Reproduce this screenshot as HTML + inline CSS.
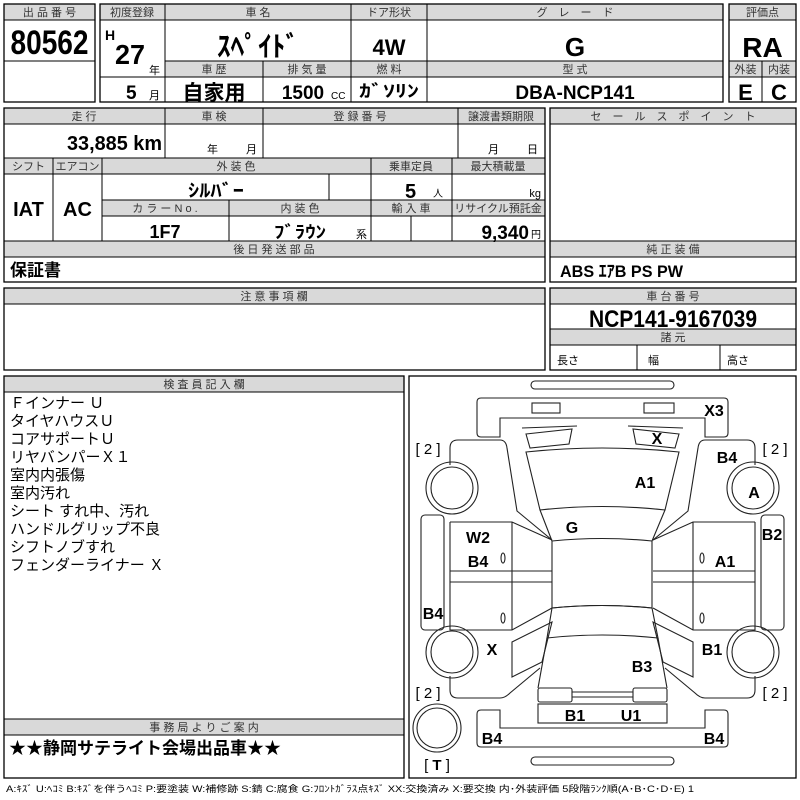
<!DOCTYPE html>
<html><head><meta charset="utf-8"><style>
html,body{margin:0;padding:0;background:#fff}
svg{display:block}
text{font-family:"Liberation Sans","Noto Sans CJK JP",sans-serif;fill:#000}
.h{font-size:11px;text-anchor:middle;fill:#333}
.b{font-weight:bold}
.m{text-anchor:middle}
.g{fill:#d9d9d9;stroke:#000;stroke-width:1}
.r{fill:none;stroke:#000;stroke-width:1.3}
.l{stroke:#000;stroke-width:1}
.d{fill:none;stroke:#222;stroke-width:1.1}
.dl{font-size:16px;font-weight:bold;text-anchor:middle}
</style></head><body>
<svg width="800" height="800" viewBox="0 0 800 800" xmlns="http://www.w3.org/2000/svg">
<rect width="800" height="800" fill="#fff"/>
<!-- Box1 -->
<rect class="g" x="4" y="4" width="91" height="16"/>
<text class="h" x="49.5" y="16">出 品 番 号</text>
<line class="l" x1="4" y1="61" x2="95" y2="61"/>
<text class="b m" x="49.5" y="54" font-size="34" textLength="78" lengthAdjust="spacingAndGlyphs">80562</text>
<rect class="r" x="4" y="4" width="91" height="98"/>
<!-- Box2 -->
<rect class="g" x="100" y="4" width="623" height="16"/>
<rect class="g" x="165" y="61" width="558" height="16"/>
<line class="l" x1="165" y1="4" x2="165" y2="102"/>
<line class="l" x1="351" y1="4" x2="351" y2="102"/>
<line class="l" x1="427" y1="4" x2="427" y2="102"/>
<line class="l" x1="263" y1="61" x2="263" y2="102"/>
<line class="l" x1="100" y1="77" x2="165" y2="77"/>
<text class="h" x="132" y="16">初度登録</text>
<text class="h" x="258" y="16">車 名</text>
<text class="h" x="389" y="16">ドア形状</text>
<text class="h" x="575" y="16">グ　レ　ー　ド</text>
<text class="b" x="105" y="40" font-size="14">H</text>
<text class="b" x="115" y="64" font-size="28" textLength="30" lengthAdjust="spacingAndGlyphs">27</text>
<text x="149" y="74" font-size="11">年</text>
<text class="b" x="126" y="99" font-size="19">5</text>
<text x="149" y="99" font-size="11">月</text>
<text class="b m" x="258" y="56" font-size="28" textLength="82" lengthAdjust="spacingAndGlyphs">ｽﾍﾟｲﾄﾞ</text>
<text class="b m" x="389" y="55" font-size="22">4W</text>
<text class="b m" x="575" y="56" font-size="26">G</text>
<text class="h" x="214" y="73">車 歴</text>
<text class="h" x="307" y="73">排 気 量</text>
<text class="h" x="389" y="73">燃 料</text>
<text class="h" x="575" y="73">型 式</text>
<text class="b m" x="214" y="100" font-size="21">自家用</text>
<text class="b m" x="303" y="99" font-size="19">1500</text>
<text x="331" y="99" font-size="10">CC</text>
<text class="b m" x="389" y="97" font-size="17" textLength="60" lengthAdjust="spacingAndGlyphs">ｶﾞｿﾘﾝ</text>
<text class="b m" x="575" y="99" font-size="19">DBA-NCP141</text>
<rect class="r" x="100" y="4" width="623" height="98"/>
<!-- Box3 -->
<rect class="g" x="729" y="4" width="67" height="16"/>
<rect class="g" x="729" y="61" width="67" height="16"/>
<line class="l" x1="762" y1="61" x2="762" y2="102"/>
<text class="h" x="762.5" y="16">評価点</text>
<text class="b m" x="762.5" y="57" font-size="28">RA</text>
<text class="h" x="745.5" y="73">外装</text>
<text class="h" x="779" y="73">内装</text>
<text class="b m" x="745.5" y="100" font-size="22">E</text>
<text class="b m" x="779" y="100" font-size="22">C</text>
<rect class="r" x="729" y="4" width="67" height="98"/>
<!-- Block2 -->
<rect class="g" x="4" y="108" width="541" height="16"/>
<rect class="g" x="4" y="158" width="541" height="16"/>
<rect class="g" x="102" y="200" width="443" height="16"/>
<rect class="g" x="4" y="241" width="541" height="16"/>
<line class="l" x1="165" y1="108" x2="165" y2="158"/>
<line class="l" x1="263" y1="108" x2="263" y2="158"/>
<line class="l" x1="458" y1="108" x2="458" y2="158"/>
<line class="l" x1="53" y1="158" x2="53" y2="241"/>
<line class="l" x1="102" y1="158" x2="102" y2="241"/>
<line class="l" x1="371" y1="158" x2="371" y2="241"/>
<line class="l" x1="452" y1="158" x2="452" y2="241"/>
<line class="l" x1="329" y1="174" x2="329" y2="200"/>
<line class="l" x1="229" y1="200" x2="229" y2="241"/>
<line class="l" x1="411" y1="216" x2="411" y2="241"/>
<text class="h" x="84" y="120">走 行</text>
<text class="h" x="214" y="120">車 検</text>
<text class="h" x="360" y="120">登 録 番 号</text>
<text class="h" x="501" y="120">譲渡書類期限</text>
<text class="b" x="162" y="150" font-size="20" text-anchor="end" textLength="95" lengthAdjust="spacingAndGlyphs">33,885 km</text>
<text x="207" y="153" font-size="11">年</text>
<text x="246" y="153" font-size="11">月</text>
<text x="488" y="153" font-size="11">月</text>
<text x="527" y="153" font-size="11">日</text>
<text class="h" x="28.5" y="170">シフト</text>
<text class="h" x="77.5" y="170">エアコン</text>
<text class="h" x="236" y="170">外 装 色</text>
<text class="h" x="411" y="170">乗車定員</text>
<text class="h" x="498" y="170">最大積載量</text>
<text class="b m" x="28.5" y="216" font-size="20">IAT</text>
<text class="b m" x="77.5" y="216" font-size="20">AC</text>
<text class="b m" x="216" y="197" font-size="18" textLength="56" lengthAdjust="spacingAndGlyphs">ｼﾙﾊﾞｰ</text>
<text class="b" x="405" y="198" font-size="20">5</text>
<text x="433" y="197" font-size="10">人</text>
<text x="541" y="197" font-size="11" text-anchor="end">kg</text>
<text class="h" x="165" y="212">カ ラ ー N o .</text>
<text class="h" x="300" y="212">内 装 色</text>
<text class="h" x="411" y="212">輸 入 車</text>
<text class="h" x="498" y="212">リサイクル預託金</text>
<text class="b m" x="165" y="238" font-size="18">1F7</text>
<text class="b m" x="300" y="238" font-size="17" textLength="52" lengthAdjust="spacingAndGlyphs">ﾌﾞﾗｳﾝ</text>
<text x="356" y="238" font-size="11">系</text>
<text class="b" x="529" y="239" font-size="19" text-anchor="end">9,340</text>
<text x="531" y="238" font-size="10">円</text>
<text class="h" x="274" y="253">後 日 発 送 部 品</text>
<text class="b" x="10" y="276" font-size="17">保証書</text>
<line class="l" x1="4" y1="174" x2="545" y2="174"/>
<rect class="r" x="4" y="108" width="541" height="174"/>
<!-- Sales point -->
<rect class="g" x="550" y="108" width="246" height="16"/>
<rect class="g" x="550" y="241" width="246" height="16"/>
<text class="h" x="673" y="120">セ　ー　ル　ス　ポ　イ　ン　ト</text>
<text class="h" x="673" y="253">純 正 装 備</text>
<text class="b" x="560" y="277" font-size="17" textLength="123" lengthAdjust="spacingAndGlyphs">ABS ｴｱB PS PW</text>
<rect class="r" x="550" y="108" width="246" height="174"/>
<!-- Block3 -->
<rect class="g" x="4" y="288" width="541" height="16"/>
<text class="h" x="274" y="300">注 意 事 項 欄</text>
<rect class="r" x="4" y="288" width="541" height="82"/>
<rect class="g" x="550" y="288" width="246" height="16"/>
<rect class="g" x="550" y="329" width="246" height="16"/>
<text class="h" x="673" y="300">車 台 番 号</text>
<text class="b m" x="673" y="327" font-size="24" textLength="168" lengthAdjust="spacingAndGlyphs">NCP141-9167039</text>
<text class="h" x="673" y="341">諸 元</text>
<line class="l" x1="637" y1="345" x2="637" y2="370"/>
<line class="l" x1="720" y1="345" x2="720" y2="370"/>
<text x="557" y="364" font-size="11">長さ</text>
<text x="648" y="364" font-size="11">幅</text>
<text x="727" y="364" font-size="11">高さ</text>
<rect class="r" x="550" y="288" width="246" height="82"/>
<!-- Block4 -->
<rect class="g" x="4" y="376" width="400" height="16"/>
<text class="h" x="204" y="388">検 査 員 記 入 欄</text>
<g font-size="15">
<text x="10" y="408">Ｆインナー Ｕ</text>
<text x="10" y="426">タイヤハウスＵ</text>
<text x="10" y="444">コアサポートＵ</text>
<text x="10" y="462">リヤバンパーＸ１</text>
<text x="10" y="480">室内内張傷</text>
<text x="10" y="498">室内汚れ</text>
<text x="10" y="516">シート すれ中、汚れ</text>
<text x="10" y="534">ハンドルグリップ不良</text>
<text x="10" y="552">シフトノブすれ</text>
<text x="10" y="570">フェンダーライナー Ｘ</text>
</g>
<rect class="g" x="4" y="719" width="400" height="16"/>
<text class="h" x="204" y="731">事 務 局 よ り ご 案 内</text>
<text class="b" x="9" y="754" font-size="17">★★静岡サテライト会場出品車★★</text>
<rect class="r" x="4" y="376" width="400" height="402"/>
<!-- Diagram -->
<rect class="r" x="409" y="376" width="387" height="402"/>
<g class="d">
<rect x="531" y="381" width="143" height="8" rx="4"/>
<rect x="531" y="757" width="143" height="8" rx="4"/>
<path d="M477,402 Q477,398 481,398 L724,398 Q728,398 728,402 L728,433 Q728,437 724,437 L705,437 L705,418 L500,418 L500,437 L481,437 Q477,437 477,433 Z"/>
<rect x="532" y="403" width="28" height="10"/>
<rect x="644" y="403" width="30" height="10"/>
<path d="M526,452 Q602,444 679,452 L665,510 Q602,503 540,510 Z"/>
<path d="M540,510 L552,541 M665,510 L652,541"/>
<path d="M552,541 Q602,536 652,541 L652,608 Q602,603 552,608 Z"/>
<path d="M552,608 Q602,603 652,608 L658,638 Q602,632 547,638 Z"/>
<path d="M547,638 L538,688 M658,638 L667,688"/>
<rect x="538" y="688" width="34" height="14" rx="2"/>
<rect x="633" y="688" width="34" height="14" rx="2"/>
<path d="M572,692 L633,692 M572,697 L633,697"/>
<rect x="538" y="704" width="129" height="19"/>
<path d="M477,714 Q477,710 481,710 L500,710 L500,728 L705,728 L705,710 L724,710 Q728,710 728,714 L728,743 Q728,747 724,747 L481,747 Q477,747 477,743 Z"/>
<circle cx="437" cy="728" r="24"/>
<circle cx="437" cy="728" r="20"/>
<g id="side">
<path d="M522,428 L577,426"/>
<path d="M526,434 L572,429 L569,444 L530,448 Z"/>
<path d="M450,465 L450,448 Q450,440 458,440 L500,440 Q506,440 507,448 L517,511 L552,540"/>
<circle cx="452" cy="488" r="26"/>
<circle cx="452" cy="488" r="21"/>
<rect x="421" y="515" width="23" height="115" rx="4"/>
<path d="M450,522 L512,522 L552,540 M450,522 L450,630 L512,630 L552,608 M512,522 L512,630 M450,571 L552,571 M450,582 L552,582"/>
<circle cx="452" cy="652" r="26"/>
<circle cx="452" cy="652" r="21"/>
<path d="M512,642 L552,622 L542,662 L512,677 Z"/>
<path d="M450,676 L450,690 Q450,698 458,698 L500,698 Q505,698 510,693 L540,668"/>
<ellipse cx="503" cy="558" rx="2" ry="5"/>
<ellipse cx="503" cy="618" rx="2" ry="5"/>
</g>
<use href="#side" transform="translate(1205,0) scale(-1,1)"/>
</g>
<g>
<text class="dl" x="714" y="416">X3</text>
<text class="dl" x="657" y="444">X</text>
<text class="dl" x="645" y="488">A1</text>
<text class="dl" x="727" y="463">B4</text>
<text class="dl" x="754" y="498">A</text>
<text class="dl" x="572" y="533">G</text>
<text class="dl" x="478" y="543">W2</text>
<text class="dl" x="478" y="567">B4</text>
<text class="dl" x="725" y="567">A1</text>
<text class="dl" x="772" y="540">B2</text>
<text class="dl" x="433" y="619">B4</text>
<text class="dl" x="492" y="655">X</text>
<text class="dl" x="712" y="655">B1</text>
<text class="dl" x="642" y="672">B3</text>
<text class="dl" x="575" y="721">B1</text>
<text class="dl" x="631" y="721">U1</text>
<text class="dl" x="492" y="744">B4</text>
<text class="dl" x="714" y="744">B4</text>
<text x="428" y="454" font-size="15" class="m">[ 2 ]</text>
<text x="775" y="454" font-size="15" class="m">[ 2 ]</text>
<text x="428" y="698" font-size="15" class="m">[ 2 ]</text>
<text x="775" y="698" font-size="15" class="m">[ 2 ]</text>
<text x="437" y="770" font-size="15" class="m">[ <tspan font-weight="bold">T</tspan> ]</text>
</g>
<text x="6" y="792" font-size="9" textLength="688" lengthAdjust="spacingAndGlyphs" fill="#222">A:ｷｽﾞ U:ﾍｺﾐ B:ｷｽﾞを伴うﾍｺﾐ P:要塗装 W:補修跡 S:錆 C:腐食 G:ﾌﾛﾝﾄｶﾞﾗｽ点ｷｽﾞ XX:交換済み X:要交換 内･外装評価 5段階ﾗﾝｸ順(A･B･C･D･E) 1</text>
</svg>
</body></html>
